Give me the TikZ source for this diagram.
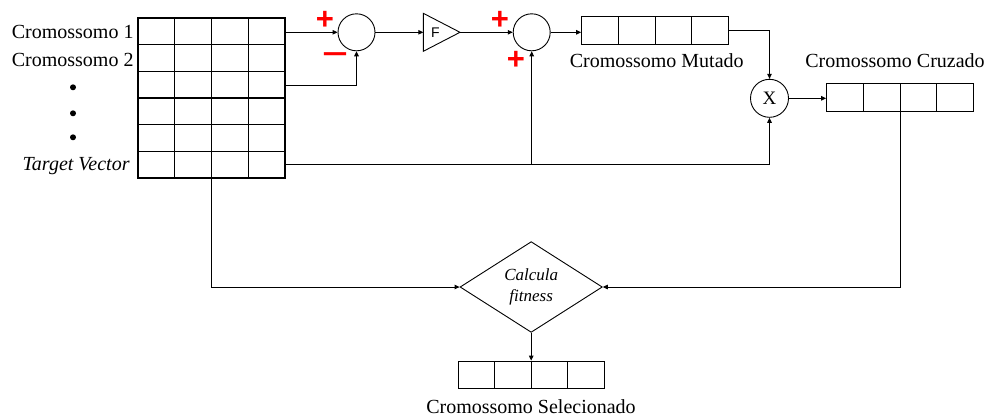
\documentclass[tikz,border=0pt]{standalone}
\usepackage{fontspec}
\setmainfont{Liberation Serif}
\setsansfont{Liberation Sans}
\usetikzlibrary{arrows.meta,shapes.geometric,calc}
\begin{document}
\begin{tikzpicture}[x=1pt,y=-1pt,line width=0.9pt,
  arr/.style={-{Triangle[length=5pt,width=4.5pt]}},
  lbl/.style={font=\fontsize{20}{22}\selectfont, inner sep=0pt},
  sign/.style={text=red, font=\sffamily\bfseries\fontsize{31}{33}\selectfont, inner sep=0pt},
  sumc/.style={draw, circle, minimum size=37pt, inner sep=0pt},
  chrom/.style={draw, minimum width=146.7pt, minimum height=27.7pt, inner sep=0pt,
    path picture={\foreach \k in {0.25,0.5,0.75}{\draw ($(path picture bounding box.north west)!\k!(path picture bounding box.north east)$) -- ($(path picture bounding box.south west)!\k!(path picture bounding box.south east)$);}}},
  popbox/.style={draw, line width=1.1pt, minimum width=147pt, minimum height=160pt, inner sep=0pt,
    path picture={\foreach \k in {0.25,0.5,0.75}{\draw[line width=1.3pt] ($(path picture bounding box.north west)!\k!(path picture bounding box.north east)$) -- ($(path picture bounding box.south west)!\k!(path picture bounding box.south east)$);}
      \foreach \k in {1,2,3,4,5}{\draw[line width=1.3pt] ($(path picture bounding box.north west)!\k/6!(path picture bounding box.south west)$) -- ($(path picture bounding box.north east)!\k/6!(path picture bounding box.south east)$);}}}
]
\useasboundingbox (0,0) rectangle (990,416);

% population matrix
\node[popbox] (mat) at (211.5,98) {};
\coordinate (r3) at (285,85);
\coordinate (r6) at (285,164);

% left labels
\node[lbl, anchor=base east] (l1) at (134,38) {Cromossomo 1};
\node[lbl, anchor=base east] (l2) at (134,66.5) {Cromossomo 2};
\fill (73,87.3) circle (3pt);
\fill (73,113.3) circle (3pt);
\fill (73,137.3) circle (3pt);
\node[lbl, anchor=base east] (ltv) at (130,170.5) {\itshape Target Vector};

% first sum
\node[sumc] (c1) at (356.5,32.3) {};
\node[sign] (p1) at (325,20) {+};
\node[sign] (m1) at (335,58) {\scalebox{1.45}[1]{–}};

% amplifier F
\draw (423.3,13.3) -- (460,32.3) -- (423.3,51.3) -- cycle;
\node[font=\sffamily\fontsize{14}{16}\selectfont, inner sep=0pt] (fl) at (435.5,32.3) {F};
\coordinate (ampin) at (423.3,32.3);
\coordinate (ampout) at (460,32.3);

% second sum
\node[sumc] (c2) at (531.7,32.3) {};
\node[sign] (p2) at (500,20) {+};
\node[sign] (p3) at (516,60) {+};

% mutated
\node[chrom] (mut) at (655,30.5) {};
\node[lbl, anchor=base] (lmut) at (656.7,67.5) {Cromossomo Mutado};

% crossover
\node[draw, circle, minimum size=38pt, inner sep=0pt, font=\fontsize{19}{20}\selectfont] (cx) at (769.5,98.3) {X};
\node[chrom] (cruz) at (900,97.2) {};
\node[lbl, anchor=base] (lcruz) at (895,67.5) {Cromossomo Cruzado};

% fitness
\node[draw, diamond, minimum width=142.3pt, minimum height=61.3pt, inner sep=0pt, align=center,
  font=\itshape\fontsize{17}{21.5}\selectfont] (fit) at (531.2,287) {Calcula\\fitness};

% selected
\node[draw, minimum width=145.7pt, minimum height=27.3pt, inner sep=0pt,
  path picture={\foreach \k in {0.25,0.5,0.75}{\draw ($(path picture bounding box.north west)!\k!(path picture bounding box.north east)$) -- ($(path picture bounding box.south west)!\k!(path picture bounding box.south east)$);}}] (sel) at (531.2,374.7) {};
\node[lbl, anchor=base] (lsel) at (531,413) {Cromossomo Selecionado};

% connectors
\draw[arr] (mat.east |- c1) -- (c1.west);
\draw[arr] (r3) -| (c1.south);
\draw[arr] (c1.east) -- (ampin);
\draw[arr] (ampout) -- (c2.west);
\draw[arr] (c2.east) -- (c2.east -| mut.west);
\draw[arr] (mut.east) -| (cx.north);
\draw[arr] (cx.east) -- (cx.east -| cruz.west);
\draw[arr] (r6) -| (cx.south);
\draw[arr] (r6 -| c2) -- (c2.south);
\draw[arr] (mat.south) |- (fit.west);
\draw[arr] (cruz.south) |- (fit.east);
\draw[arr] (fit.south) -- (sel.north);
\end{tikzpicture}
\end{document}
